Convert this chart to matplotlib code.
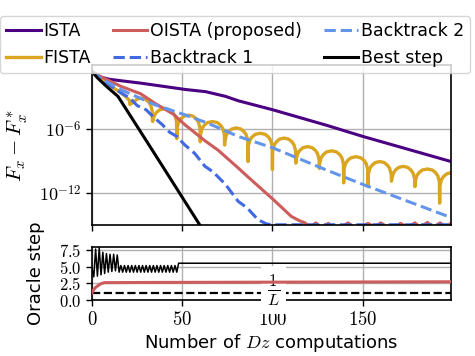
import numpy as np
import matplotlib
matplotlib.use("Agg")
import matplotlib.pyplot as plt
from matplotlib.ticker import FuncFormatter, NullLocator

plt.rcParams['font.family'] = ['DejaVu Sans']
plt.rcParams['mathtext.fontset'] = 'cm'

# ---- top panel: log10(F_x - F_x^*) ----
ista_x = [0, 4, 10, 27, 52, 63, 74, 81, 100, 130, 150, 199]
ista_y = [-0.6, -1.1, -1.35, -1.7, -2.3, -2.5, -2.94, -3.35, -4.19, -5.65, -6.69, -9.05]

fista_x = [0, 4, 8, 12, 16, 19, 20.85, 21,
           21.15, 22, 23.2, 25, 27.25, 29.5, 31.3, 32.5, 33.35, 33.5,
           33.65, 34.5, 35.7, 37.5, 40.25, 43, 44.8, 46, 46.85, 47,
           47.15, 48, 49.2, 51, 53.5, 56, 57.8, 59, 59.85, 60,
           60.15, 61, 62.2, 64, 66.75, 69.5, 71.3, 72.5, 73.35, 73.5,
           73.65, 74.5, 75.7, 77.5, 80, 82.5, 84.3, 85.5, 86.35, 86.5,
           86.65, 87.5, 88.7, 90.5, 93.25, 96, 97.8, 99, 99.85, 100,
           100.15, 101, 102.2, 104, 106.5, 109, 110.8, 112, 112.85, 113,
           113.15, 114, 115.2, 117, 119.5, 122, 123.8, 125, 125.85, 126,
           126.15, 127, 128.2, 130, 132.75, 135.5, 137.3, 138.5, 139.35, 139.5,
           139.65, 140.5, 141.7, 143.5, 146.25, 149, 150.8, 152, 152.85, 153,
           153.15, 154, 155.2, 157, 159.5, 162, 163.8, 165, 165.85, 166,
           166.15, 167, 168.2, 170, 172.5, 175, 176.8, 178, 178.85, 179,
           179.15, 180, 181.2, 183, 185.85, 188.7, 190.5, 191.7, 192.55, 192.7,
           192.85, 193.7, 194.9, 196.7, 199]
fista_y = [-0.6, -1.2, -1.7, -2.15, -2.6, -3.0, -3.35, -3.7,
           -3.65, -3.6, -3.45, -3.2, -3.1, -3.2, -3.45, -3.75, -4.3, -5.25,
           -5.3, -4.75, -4.45, -4.2, -4.1, -4.2, -4.45, -4.75, -5.3, -6.9,
           -5.9, -5.35, -5.05, -4.8, -4.7, -4.8, -5.05, -5.35, -5.9, -7.2,
           -6.5, -5.95, -5.65, -5.4, -5.3, -5.4, -5.65, -5.95, -6.5, -7.5,
           -7.1, -6.55, -6.25, -6.0, -5.9, -6.0, -6.25, -6.55, -7.1, -9.05,
           -7.6, -7.05, -6.75, -6.5, -6.4, -6.5, -6.75, -7.05, -7.6, -9.8,
           -8.05, -7.5, -7.2, -6.95, -6.85, -6.95, -7.2, -7.5, -8.05, -9.2,
           -8.85, -8.3, -8.0, -7.75, -7.65, -7.75, -8.0, -8.3, -8.85, -9.7,
           -9.25, -8.7, -8.4, -8.15, -8.05, -8.15, -8.4, -8.7, -9.25, -11.05,
           -9.8, -9.25, -8.95, -8.7, -8.6, -8.7, -8.95, -9.25, -9.8, -11.4,
           -10.25, -9.7, -9.4, -9.15, -9.05, -9.15, -9.4, -9.7, -10.25, -10.9,
           -10.7, -10.15, -9.85, -9.6, -9.5, -9.6, -9.85, -10.15, -10.7, -11.4,
           -10.95, -10.4, -10.1, -9.85, -9.75, -9.85, -10.1, -10.4, -10.95, -12.95,
           -11.3, -10.75, -10.45, -10.2, -10.1]

oista_x = [0, 4.4, 16, 27, 35, 45, 51.5, 62.6, 70, 81, 86.5, 100.4, 110.5, 115, 118,
           121, 124, 127, 131, 134, 138, 142, 145, 149, 153, 157, 160, 164, 168,
           171, 175, 179, 182, 186, 189, 193, 196, 199]
oista_y = [-0.6, -1.05, -2.0, -2.7, -3.6, -4.6, -5.6, -7.1, -8.0, -9.65, -10.5, -12.6, -14.2, -14.6, -14.8,
           -15.2, -14.8, -15.2, -14.85, -15.2, -15.2, -14.8, -15.2, -15.2, -14.85, -15.2, -14.8, -15.2, -15.2,
           -14.85, -15.2, -14.8, -15.2, -14.75, -15.2, -14.8, -15.2, -14.85]

bt1_x = [0, 5, 16.2, 21, 25, 30, 34.7, 39, 43, 47, 51.3, 57, 62.6, 67, 74, 81, 86, 92, 96.7, 100, 150, 199]
bt1_y = [-0.6, -1.3, -2.63, -3.1, -3.8, -4.2, -4.97, -5.6, -6.3, -6.7, -7.47, -8.3, -9.5, -10.0, -11.2, -12.78,
         -13.4, -14.5, -14.9, -14.98, -14.98, -14.98]

bt2_x = [0, 5, 16.2, 34.7, 51.3, 64, 81, 100.4, 130, 150.2, 199]
bt2_y = [-0.6, -1.3, -2.32, -3.72, -4.66, -5.44, -6.69, -7.78, -9.85, -11.2, -14.3]

best_x = [0, 3, 7, 10, 14.4, 35, 62]
best_y = [-0.6, -1.2, -1.85, -2.3, -2.94, -8.4, -15.6]

# ---- bottom panel: oracle step sizes ----
oracle_best_x = list(range(48)) + [48, 199]
oracle_best_y = [4.8, 3.5, 7.7, 3.6, 7.9, 3.8, 7.2, 4.0, 7.0, 4.2, 6.9, 4.3, 6.9, 4.4, 6.8,
                 4.2, 5.2, 4.2, 5.2, 4.2, 5.2, 4.2, 5.2, 4.2, 5.2, 4.2, 5.2, 4.2, 5.2, 4.2, 5.2,
                 4.2, 5.2, 4.2, 5.2, 4.2, 5.2, 4.2, 5.2, 4.2, 5.2, 4.2, 5.2, 4.2, 5.2, 4.2, 5.2,
                 4.2, 5.55, 5.55]
oracle_oista_x = [0, 1, 2, 3, 4, 5, 6, 7, 33, 199]
oracle_oista_y = [1.1, 1.6, 1.9, 2.1, 2.3, 2.45, 2.55, 2.62, 2.65, 2.75]
inv_L = 1.0

c_ista = '#4b0082'
c_fista = '#daa520'
c_oista = '#cd5c5c'
c_bt1 = '#4169e1'
c_bt2 = '#6495ed'

fig = plt.figure(figsize=(4.75, 3.56), dpi=100)
ax1 = fig.add_axes([0.1937, 0.368, 0.7558, 0.4494])
ax2 = fig.add_axes([0.1937, 0.1573, 0.7558, 0.1489])

lw = 2.2
ax1.plot(ista_x, 10.0 ** np.array(ista_y), color=c_ista, lw=lw, label='ISTA')
ax1.plot(fista_x, 10.0 ** np.array(fista_y), color=c_fista, lw=2.4, label='FISTA')
ax1.plot(oista_x, 10.0 ** np.array(oista_y), color=c_oista, lw=lw, label='OISTA (proposed)')
ax1.plot(bt1_x, 10.0 ** np.array(bt1_y), color=c_bt1, lw=lw, ls='--', label='Backtrack 1')
ax1.plot(bt2_x, 10.0 ** np.array(bt2_y), color=c_bt2, lw=lw, ls='--', label='Backtrack 2')
ax1.plot(best_x, 10.0 ** np.array(best_y), color='k', lw=lw, label='Best step')

ax1.set_yscale('log')
ax1.set_xlim(0, 199)
ax1.set_ylim(1e-15, 1e0)
ax1.set_yticks([1e-12, 1e-6], [r'$10^{-12}$', r'$10^{-6}$'])
ax1.yaxis.set_minor_locator(NullLocator())
ax1.set_xticks([0, 50, 100, 150])
ax1.tick_params(labelbottom=False)
ax1.set_ylabel(r'$F_x - F_x^*$', fontsize=15)
ax1.yaxis.set_label_coords(-0.173, 0.5)

ax2.plot(oracle_best_x, oracle_best_y, color='k', lw=1.1)
ax2.plot(oracle_oista_x, oracle_oista_y, color=c_oista, lw=2.2, zorder=4)
ax2.axhline(inv_L, color='k', ls='--', lw=1.6, zorder=2)
ax2.text(100.5, 1.5, r'$\frac{1}{L}$', fontsize=17, ha='center', va='center', zorder=3,
         bbox=dict(boxstyle='square,pad=0.25', fc='white', ec='none'))
ax2.set_xlim(0, 199)
ax2.set_ylim(0, 8)
ax2.set_xticks([0, 50, 100, 150])
ax2.set_yticks([0, 2.5, 5.0, 7.5])
ax2.xaxis.set_major_formatter(FuncFormatter(lambda v, p: f'${v:.0f}$'))
ax2.yaxis.set_major_formatter(FuncFormatter(lambda v, p: f'${v:.1f}$'))
ax2.set_ylabel('Oracle step', fontsize=13)
ax2.yaxis.set_label_coords(-0.131, 0.5)
ax2.set_xlabel(r'Number of $Dz$ computations', fontsize=13, labelpad=2)

for ax in (ax1, ax2):
    ax.grid(True, color='#b0b0b0', lw=1.0)
    ax.set_axisbelow(True)
    ax.tick_params(length=4, width=1)
    for s in ax.spines.values():
        s.set_linewidth(1.2)
ax1.tick_params(axis='y', labelsize=13)
ax2.tick_params(axis='x', labelsize=13.5)
ax2.tick_params(axis='y', labelsize=12)

fig.legend(loc='lower left', bbox_to_anchor=(0.0, 0.795, 0.99, 0.2), mode='expand',
           ncol=3, fontsize=12.5, borderaxespad=0, handlelength=2.0, handletextpad=0.15,
           borderpad=0.35, labelspacing=0.5)

fig.savefig('out.png', dpi=100)
